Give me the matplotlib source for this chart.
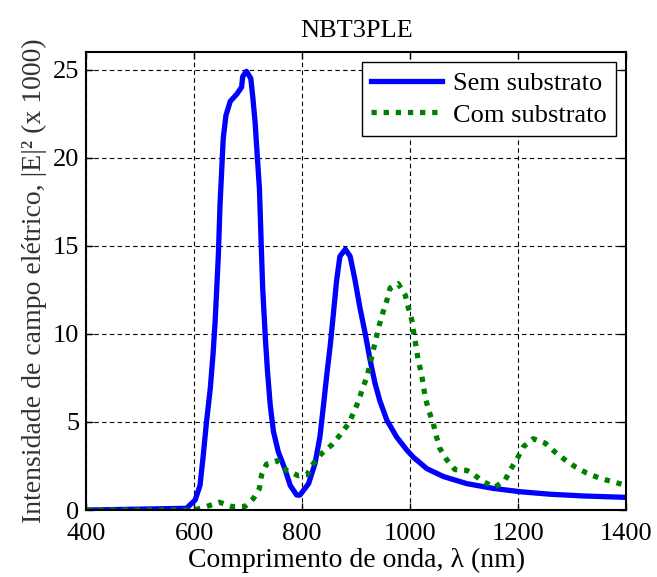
import matplotlib
matplotlib.use('Agg')
import matplotlib.pyplot as plt

# Sem substrato (blue, solid)
semX = [400, 586, 602, 611, 617, 623, 630, 635, 639, 642, 645, 648, 651, 654, 659, 667, 679, 688, 690,
        697, 705, 709, 713, 717, 721, 724, 727, 732, 736, 741, 747, 756, 768, 778, 790, 796, 812,
        824, 833, 840, 846, 852, 858, 864, 870, 880, 889, 898, 907, 917, 926, 935, 944, 957, 975,
        994, 1006, 1031, 1062, 1105, 1154, 1204, 1259, 1321, 1400]
semY = [0, 0.1, 0.57, 1.4, 3.1, 5.0, 6.9, 8.8, 10.7, 12.6, 14.5, 17.3, 19.2, 21.1, 22.4, 23.2, 23.6, 24.0, 24.6,
        24.9, 24.5, 23.35, 22.0, 20.1, 18.25, 15.4, 12.6, 9.75, 7.85, 5.96, 4.45, 3.3, 2.35, 1.4, 0.85, 0.85, 1.5,
        2.65, 4.15, 6.05, 7.75, 9.3, 11.15, 13.05, 14.4, 14.8, 14.4, 13.05, 11.5, 10.0, 8.5, 7.2, 6.2, 5.1, 4.15,
        3.4, 3.0, 2.35, 1.9, 1.5, 1.23, 1.04, 0.9, 0.8, 0.72]

# Com substrato (green, dotted)
comX = [400, 600, 623, 647, 670, 694, 710, 721, 725, 734, 754, 771, 793, 809, 821, 836, 855, 870, 886,
        895, 904, 912, 920, 926, 932, 937, 943, 950, 957, 963, 978, 991, 997, 1003, 1007, 1011, 1015,
        1021, 1028, 1034, 1043, 1049, 1055, 1068, 1083, 1105, 1114, 1136, 1157, 1176, 1185, 1198, 1210,
        1228, 1250, 1268, 1287, 1306, 1327, 1352, 1370, 1400]
comY = [0, 0, 0.2, 0.44, 0.2, 0.2, 0.66, 1.23, 2.0, 2.6, 2.8, 2.25, 1.95, 2.0, 2.65, 3.2, 3.7, 4.25, 4.9,
        5.5, 6.15, 6.9, 7.55, 8.3, 9.1, 9.75, 10.5, 11.25, 11.9, 12.6, 12.85, 12.2, 11.45, 10.8, 10.0, 9.3, 8.5,
        7.75, 6.4, 5.7, 4.9, 4.15, 3.5, 2.85, 2.3, 2.25, 2.1, 1.6, 1.3, 1.7, 2.25, 2.9, 3.6,
        4.05, 3.8, 3.3, 2.85, 2.45, 2.1, 1.8, 1.65, 1.4]

xTicks = [400, 600, 800, 1000, 1200, 1400]
yTicks = [0, 5, 10, 15, 20, 25]

plt.rcParams['font.family'] = ['Liberation Serif', 'DejaVu Serif']

fig = plt.figure(figsize=(6.57, 5.77), dpi=100)
ax = fig.add_axes([0.131, 0.116, 0.822, 0.794])

ax.plot(semX, semY, '-', color='#0000ff', lw=3.8, label='Sem substrato')
ax.plot(comX, comY, color='#008000', lw=3.8, linestyle=(0, (1, 1.3)), label='Com substrato')

ax.set_xlim(400, 1400)
ax.set_ylim(0, 26)
ax.set_xticks(xTicks)
ax.set_yticks(yTicks)
ax.tick_params(direction='in', top=True, right=True, labelsize=19, length=5, width=1)
ax.tick_params(axis='x', pad=9)
ax.tick_params(axis='y', pad=5)
ax.grid(True, color='black', linestyle=(0, (4, 3)), lw=0.8)
for sp in ax.spines.values():
    sp.set_linewidth(1.5)

ax.set_title('NBT3PLE', fontsize=19, pad=11)
ax.set_xlabel('Comprimento de onda, λ (nm)', fontsize=20, labelpad=2)
ax.set_ylabel('Intensidade de campo elétrico, |E|² (x 1000)', fontsize=20, color='#333333', labelpad=4)

leg = ax.legend(loc='upper right', fontsize=19, fancybox=False, edgecolor='black',
                framealpha=1, handlelength=2.7, handletextpad=0.4, borderaxespad=0.4,
                borderpad=0.35, labelspacing=0.3)
leg.get_frame().set_linewidth(1.0)

fig.savefig('out.png', dpi=100)
